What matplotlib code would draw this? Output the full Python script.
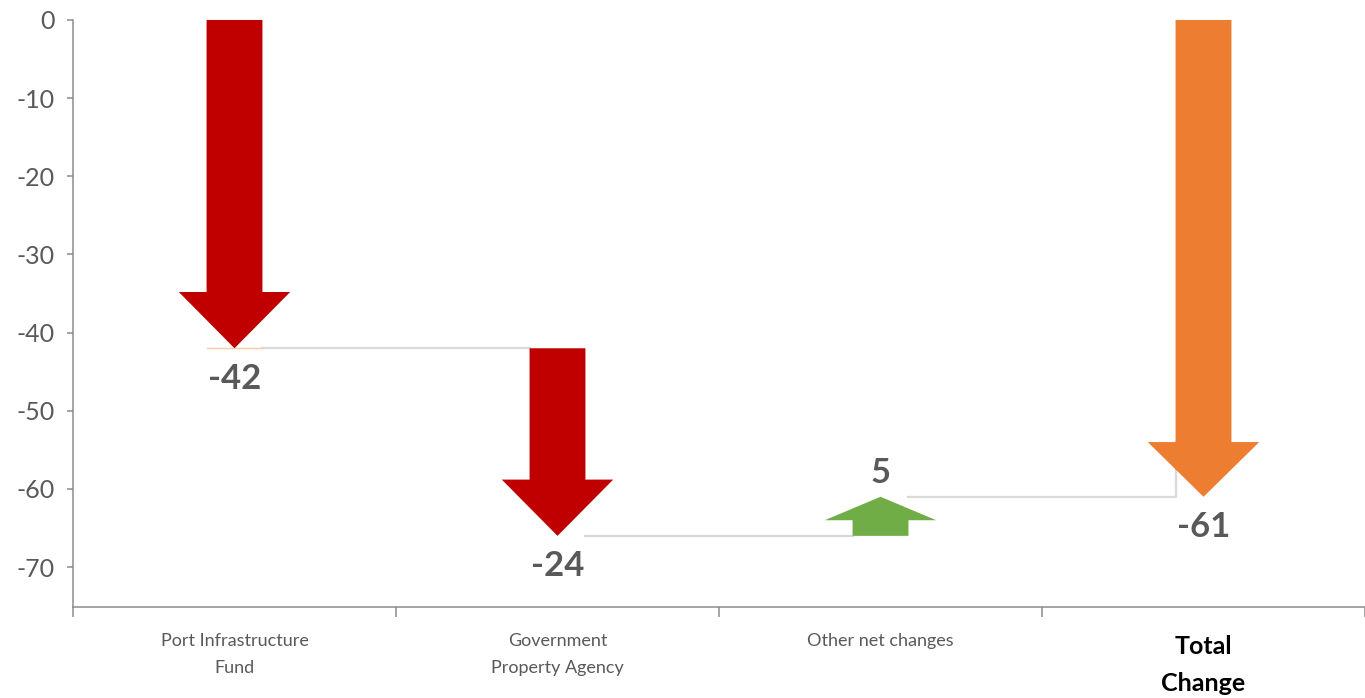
import matplotlib
matplotlib.use("Agg")
import matplotlib.pyplot as plt
from matplotlib.transforms import blended_transform_factory

plt.rcParams["font.family"] = ["Lato", "DejaVu Sans"]
plt.rcParams["axes.unicode_minus"] = False

# bridge steps and the resulting total
categories = ["Port Infrastructure\nFund", "Government\nProperty Agency",
              "Other net changes", "Total\nChange"]
changes = [-42, -24, 5]
step_colors = ["#c00000", "#c00000", "#70ad47"]
total_color = "#ed7d31"
y_ticks = [0, -10, -20, -30, -40, -50, -60, -70]

total = sum(changes)
starts, ends = [], []
level = 0
for c in changes:
    starts.append(level)
    level += c
    ends.append(level)

fig = plt.figure(figsize=(13.65, 6.98), dpi=100)
ax = fig.add_axes([73 / 1365, 1 - 607 / 698, 1 - 73 / 1365, 590 / 698])

shaft_w = 0.173
head_w = 0.345
text_gray = "#595959"
axis_gray = "#8c8c8c"

def draw_arrow(x, y0, y1, color, head_len):
    ax.arrow(x, y0, 0, y1 - y0, width=shaft_w, head_width=head_w,
             head_length=head_len, length_includes_head=True,
             color=color, linewidth=0, zorder=3)

def value_label(x, y, value, up=False):
    ax.annotate(f"{value}", (x, y), xytext=(0, 10 if up else -29),
                textcoords="offset points", ha="center", va="baseline",
                fontsize=25, fontweight="bold", color=text_gray)

for i, (s, e, c) in enumerate(zip(starts, ends, changes)):
    head = 7.2 if abs(c) > 10 else 3.0
    draw_arrow(i, s, e, step_colors[i], head)
    value_label(i, e, c, up=c > 0)

# total arrow
t = len(changes)
draw_arrow(t, 0, total, total_color, 7.0)
value_label(t, total, total)

# connectors between steps
ax.plot([-shaft_w / 2, shaft_w / 2], [ends[0], ends[0]], color="#f8cbad",
        lw=1, zorder=2)
for i, e in enumerate(ends):
    x0 = i + shaft_w / 2
    x1 = i + 1 - shaft_w / 2
    if i + 1 == t:
        ax.plot([x0, x1, x1], [e, e, e + 7], color="#d9d9d9", lw=1.6, zorder=1)
    else:
        ax.plot([x0, x1], [e, e], color="#d9d9d9", lw=1.6, zorder=1)

ax.set_xlim(-0.5, 3.475)
ax.set_ylim(-75.1, 0.38)

ax.set_yticks(y_ticks)
ax.set_yticklabels([str(v) for v in y_ticks], fontsize=18, color=text_gray)
ax.tick_params(axis="y", length=4, width=1.1, color=axis_gray, pad=9)

ax.set_xticks(range(len(categories)))
ax.set_xticks([-0.5, 0.5, 1.5, 2.5, 3.5], minor=True)
ax.tick_params(axis="x", which="major", length=0, pad=19)
ax.tick_params(axis="x", which="minor", length=7, width=1.1, color=axis_gray)
ax.set_xticklabels(categories[:-1] + [""], fontsize=13, color=text_gray,
                   linespacing=1.8, va="top")

# the total category gets a larger bold label
trans = blended_transform_factory(ax.transData, fig.transFigure)
ax.text(t, 1 - 635 / 698, categories[-1], transform=trans, ha="center",
        va="top", fontsize=18, fontweight="bold", color="black",
        linespacing=1.75)

for side in ["top", "right"]:
    ax.spines[side].set_visible(False)
for side in ["left", "bottom"]:
    ax.spines[side].set_color(axis_gray)
    ax.spines[side].set_linewidth(1.1)
ax.spines["left"].set_bounds(-75.1, 0)

fig.savefig("out.png", dpi=100)
